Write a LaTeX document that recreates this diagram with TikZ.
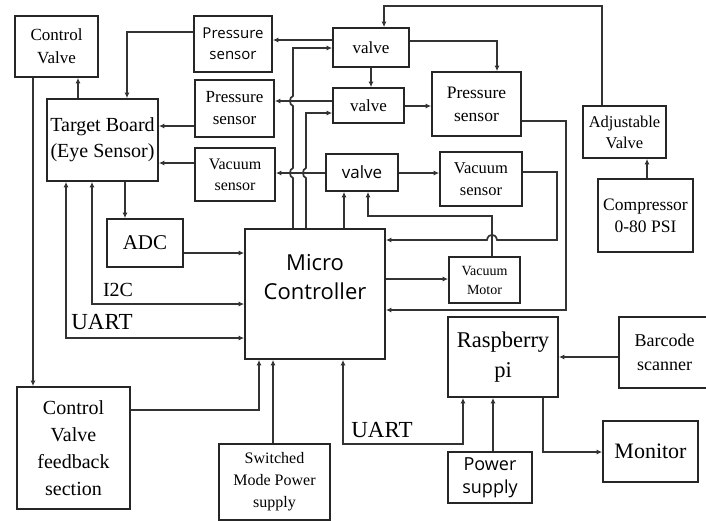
\documentclass[tikz,border=0pt]{standalone}
\usepackage{fontspec}
\setmainfont{Liberation Serif}
\newfontfamily\sansf{Open Sans}
\usetikzlibrary{arrows.meta}
\newcommand\fs[2]{\fontsize{#1}{#2}\selectfont}
\begin{document}
\begin{tikzpicture}[x=1pt,y=-1pt,
 blk/.style={draw=black!85, line width=1.7pt, inner sep=0pt, align=center},
 ln/.style={draw=black!80, line width=1.7pt},
 arr/.style={ln, -{Latex[length=5.5pt,width=5pt]}},
 darr/.style={ln, {Latex[length=5.5pt,width=5pt]}-{Latex[length=5.5pt,width=5pt]}},
 lbl/.style={inner sep=0pt}
]
\useasboundingbox (0,0) rectangle (706,520);
% boxes
\node[blk,minimum width=83,minimum height=61,font=\fs{17}{23}] (cv) at (56.5,46.5) {Control\\Valve};
\node[blk,minimum width=111,minimum height=82,font=\fs{20}{26}] (tb) at (102.5,140) {Target Board\\(Eye Sensor)};
\node[blk,minimum width=78,minimum height=56,font=\sansf\fs{15}{21}] (ps1) at (233,44) {Pressure\\sensor};
\node[blk,minimum width=79,minimum height=57,font=\fs{17}{22}] (ps2) at (234.5,108.5) {Pressure\\sensor};
\node[blk,minimum width=80,minimum height=53,font=\fs{16}{21}] (vs1) at (235,174.5) {Vacuum\\sensor};
\node[blk,minimum width=76,minimum height=39,font=\fs{17}{21}] (v1) at (371,47.5) {valve};
\node[blk,minimum width=71,minimum height=35,font=\fs{17}{21}] (v2) at (368.5,105.5) {valve};
\node[blk,minimum width=89,minimum height=64,font=\fs{17.5}{23}] (ps3) at (476.5,104) {Pressure\\sensor};
\node[blk,minimum width=72,minimum height=37,font=\sansf\fs{17}{21}] (v3) at (362,172.5) {valve};
\node[blk,minimum width=82,minimum height=54,font=\fs{16.5}{22}] (vs2) at (481,179) {Vacuum\\sensor};
\node[blk,minimum width=71,minimum height=46,font=\fs{14}{19}] (vm) at (484.5,280) {Vacuum\\Motor};
\node[blk,minimum width=83,minimum height=52,font=\fs{16.5}{21}] (av) at (624.5,132) {Adjustable\\Valve};
\node[blk,minimum width=95,minimum height=73,font=\fs{17.5}{22}] (comp) at (645.5,215.5) {Compressor\\0-80 PSI};
\node[blk,minimum width=140,minimum height=130] (mc) at (315,294) {};
\node[lbl,align=center,font=\sansf\fs{22}{29}] (mctext) at (315,277) {Micro\\Controller};
\node[blk,minimum width=76,minimum height=48,font=\fs{21}{25}] (adc) at (145,243) {ADC};
\node[blk,minimum width=113,minimum height=122,font=\fs{20}{27}] (cvf) at (73.5,448) {Control\\Valve\\feedback\\section};
\node[blk,minimum width=111,minimum height=76,font=\fs{16}{22}] (smps) at (274.5,482) {Switched\\Mode Power\\supply};
\node[blk,minimum width=110,minimum height=80,font=\fs{22.5}{30}] (rpi) at (503,357) {Raspberry\\pi};
\node[blk,minimum width=91,minimum height=71,font=\fs{18}{24}] (bar) at (664.5,352.5) {Barcode\\scanner};
\node[blk,minimum width=95,minimum height=61,font=\fs{22}{26}] (mon) at (650.5,451.5) {Monitor};
\node[blk,minimum width=84,minimum height=51,font=\sansf\fs{18}{23}] (ps4) at (490,477.5) {Power\\supply};
% labels
\node[lbl,font=\fs{20}{24}] (i2c) at (118,290) {I2C};
\node[lbl,font=\fs{23}{27}] (uart1) at (102,322) {UART};
\node[lbl,font=\fs{23}{27}] (uart2) at (382,430) {UART};
% connectors
\draw[arr] (ps1.west |- 0,32) -| (tb.north -| 127,0);
\draw[arr] (tb.north -| 78,0) -- (cv.south -| 78,0);
\draw[arr] (cv.south -| 33,0) -- (cvf.north -| 33,0);
\draw[darr] (tb.south -| 66,0) |- (mc.west |- 0,338);
\draw[darr] (tb.south -| 92,0) |- (mc.west |- 0,304);
\draw[arr] (tb.south -| 125,0) -- (adc.north -| 125,0);
\draw[arr] (adc.east |- 0,253) -- (mc.west |- 0,253);
\draw[arr] (ps2.west |- 0,126) -- (tb.east |- 0,126);
\draw[arr] (vs1.west |- 0,163) -- (tb.east |- 0,163);
\draw[arr] (v1.west |- 0,40) -- (ps1.east |- 0,40);
\draw[arr] (v2.west |- 0,101) -- (ps2.east |- 0,101);
\draw[arr] (v3.west |- 0,173) -- (vs1.east |- 0,173);
\draw[arr] (mc.north -| 293,0) -- (293,178) .. controls (289,177) and (289,169) .. (293,168)
   -- (293,106) .. controls (289,105) and (289,97) .. (293,96) |- (v1.west |- 0,48);
\draw[arr] (mc.north -| 306,0) -- (306,178) .. controls (302,177) and (302,169) .. (306,168) |- (v2.west |- 0,113);
\draw[arr] (mc.north -| 344,0) -- (v3.south -| 344,0);
\draw[arr] (v1.south -| 371,0) -- (v2.north -| 371,0);
\draw[arr] (v1.east |- 0,41) -| (ps3.north -| 497,0);
\draw[arr] (v2.east |- 0,106) -- (ps3.west |- 0,106);
\draw[arr] (ps3.east |- 0,121) -- (566,121) |- (mc.east |- 0,310);
\draw[arr] (v3.east |- 0,173) -- (vs2.west |- 0,173);
\draw[arr] (vs2.east |- 0,172) -- (557,172) -- (557,240) -- (497,240)
   .. controls (496,233) and (488,233) .. (487,240) -- (mc.east |- 0,240);
\draw[arr] (vm.north -| 492,0) |- (368,216) -- (v3.south -| 368,0);
\draw[arr] (mc.east |- 0,279) -- (vm.west |- 0,279);
\draw[arr] (av.north -| 602,0) |- (384,6) -- (v1.north -| 384,0);
\draw[arr] (comp.north -| 647,0) -- (av.south -| 647,0);
\draw[arr] (cvf.east |- 0,410) -| (mc.south -| 259,0);
\draw[arr] (smps.north -| 273,0) -- (mc.south -| 273,0);
\draw[darr] (mc.south -| 343,0) |- (463,444) -- (rpi.south -| 463,0);
\draw[arr] (ps4.north -| 493,0) -- (rpi.south -| 493,0);
\draw[arr] (rpi.south -| 543,0) |- (mon.west |- 0,452);
\draw[arr] (bar.west |- 0,357) -- (rpi.east |- 0,357);
\end{tikzpicture}
\end{document}
